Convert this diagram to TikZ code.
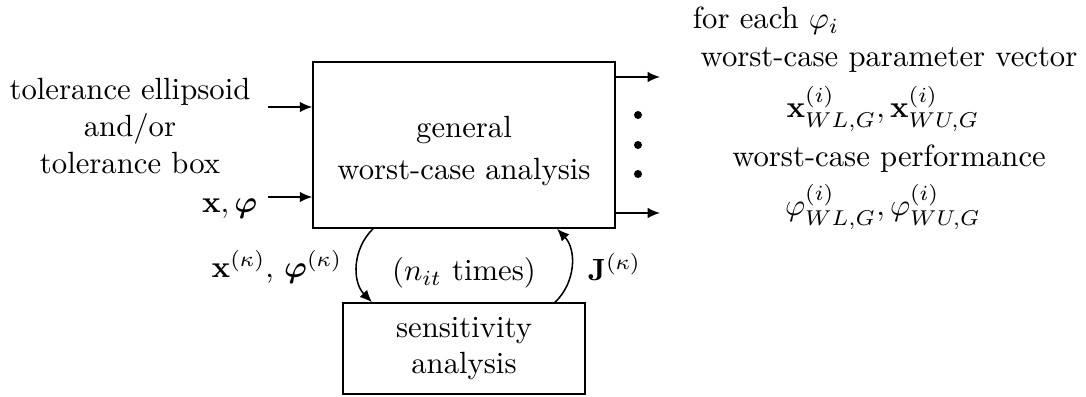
\documentclass[tikz,border=0pt]{standalone}
\usepackage{amsmath}
\usepackage{bm}
\usetikzlibrary{arrows.meta}

\begin{document}
\begin{tikzpicture}[x=0.32573pt, y=0.32573pt,
  every path/.style={line width=0.5pt},
  arr/.style={-{Latex[length=4pt,width=3.4pt]}},
  blockbox/.style={draw, inner sep=0pt},
  lbl/.style={inner sep=0pt, anchor=base},
  dot/.style={fill=black}]
\useasboundingbox (0,0) rectangle (1086,397);

% blocks
\node[blockbox, minimum width=98.4pt, minimum height=54.1pt] (wca) at (464,252) {};
\node[align=center, inner sep=0pt] (wcatext) at (464,246) {general\\[2pt]worst-case analysis};
\node[blockbox, align=center, minimum width=78.8pt, minimum height=29.6pt] (sens) at (464,48.5) {sensitivity\\analysis};

% inputs
\node[lbl] (tol1) at (130,297) {tolerance ellipsoid};
\node[lbl] (tol2) at (130,260.2) {and/or};
\node[lbl] (tol3) at (130,223.4) {tolerance box};
\node[lbl, anchor=base east] (xphi) at (258,184) {$\mathbf{x},\bm{\varphi}$};
\coordinate (in1) at (268,290);
\coordinate (in2) at (268,200);
\draw[arr] (in1) -- (in1 -| wca.west);
\draw[arr] (in2) -- (in2 -| wca.west);

% outputs
\coordinate (out1) at (660,320);
\coordinate (out2) at (660,184);
\draw[arr] (wca.east |- out1) -- (out1);
\draw[arr] (wca.east |- out2) -- (out2);
\fill[dot] (638,282) circle (1.3pt);
\fill[dot] (638,252) circle (1.3pt);
\fill[dot] (638,223) circle (1.3pt);

\node[lbl, anchor=base west] (foreach) at (692,368) {for each $\varphi_i$};
\node[lbl] (res1) at (889,330) {worst-case parameter vector};
\node[lbl] (res2) at (883,279) {$\mathbf{x}^{(i)}_{WL,G},\mathbf{x}^{(i)}_{WU,G}$};
\node[lbl] (res3) at (889,230) {worst-case performance};
\node[lbl] (res4) at (883,181) {$\varphi^{(i)}_{WL,G},\varphi^{(i)}_{WU,G}$};

% iteration loop
\draw[arr] (wca.south -| 373,0) to[bend right=45] (sens.north -| 372,0);
\draw[arr] (sens.north -| 555,0) to[bend right=45] (wca.south -| 557,0);
\node[lbl, anchor=base east] (xk) at (343,119) {$\mathbf{x}^{(\kappa)}$, $\bm{\varphi}^{(\kappa)}$};
\node[lbl] (nit) at (464,116) {($n_{it}$ times)};
\node[lbl, anchor=base west] (jk) at (587,116) {$\mathbf{J}^{(\kappa)}$};
\end{tikzpicture}
\end{document}
